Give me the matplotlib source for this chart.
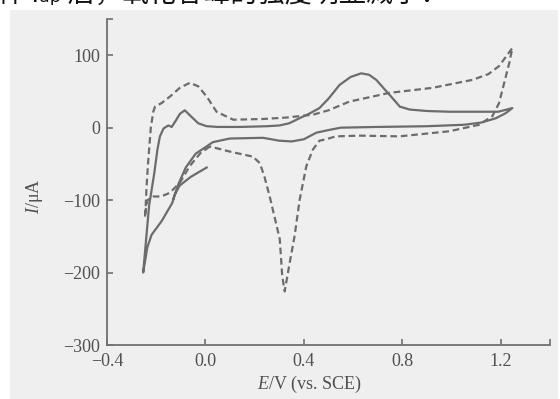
import matplotlib
matplotlib.use("Agg")
import matplotlib.pyplot as plt
from matplotlib.patches import Rectangle

# ---- data ----
solid_E = [0.005, -0.06, -0.105, -0.124, -0.135, -0.178, -0.219, -0.236, -0.253,
           -0.24, -0.229, -0.208, -0.195, -0.185, -0.17, -0.151, -0.137, -0.12, -0.104,
           -0.084, -0.063, -0.029, 0.005, 0.05, 0.14, 0.25, 0.30, 0.34, 0.382, 0.42,
           0.463, 0.50, 0.545, 0.59, 0.633, 0.665, 0.694, 0.72, 0.749, 0.79, 0.83,
           0.90, 0.99, 1.10, 1.19, 1.247,
           1.22, 1.18, 1.12, 1.05, 0.90, 0.70, 0.55, 0.504, 0.45, 0.40, 0.35, 0.30,
           0.234, 0.099, 0.03, 0.0, -0.04, -0.08, -0.11, -0.13]
solid_I = [-55, -68, -80, -92, -104, -129, -148, -165, -200,
           -150, -108, -63, -30, -12, -1, 3, 1, 10, 19,
           24, 17, 6, 2, 1, 1, 2, 3, 6, 13, 19,
           27, 40, 59, 70, 75, 73, 66, 56, 45, 29, 25,
           23, 22, 22, 22, 27,
           20, 13, 7, 4, 2, 1, 0, -3, -7, -16, -19, -18,
           -14, -15, -20, -27, -36, -55, -78, -98]

dash_E = [0.018, -0.02, -0.064, -0.104, -0.145, -0.18, -0.212, -0.235, -0.242, -0.246,
          -0.243, -0.239, -0.233, -0.222, -0.212, -0.205, -0.178, -0.144, -0.104,
          -0.063, -0.029, 0.005, 0.045, 0.113, 0.234, 0.33, 0.438, 0.50, 0.585, 0.747,
          0.923, 1.085, 1.15, 1.193, 1.247,
          1.235, 1.22, 1.193, 1.166, 1.112, 0.99, 0.788, 0.627, 0.53, 0.49, 0.463,
          0.437, 0.41, 0.383, 0.362, 0.342, 0.322, 0.312, 0.302, 0.28, 0.261, 0.240,
          0.221, 0.193, 0.099, 0.018]
dash_I = [-26, -35, -53, -76, -90, -95, -95, -100, -112, -124,
          -110, -80, -48, 0, 22, 29, 34, 43, 55,
          62, 57, 43, 22, 11, 12, 14, 18, 24, 36, 48,
          55, 66, 74, 85, 110,
          90, 70, 34, 16, 4, -5, -12, -11, -12, -16, -18,
          -30, -53, -99, -150, -187, -226, -205, -154, -122, -95, -68,
          -49, -40, -33, -26]

xticks = [-0.4, 0.0, 0.4, 0.8, 1.2, 1.4]
xticklabels = ["\u22120.4", "0.0", "0.4", "0.8", "1.2", ""]
yticks = [-300, -200, -100, 0, 100, 150]
yticklabels = ["\u2212300", "\u2212200", "\u2212100", "0", "100", ""]

# ---- style ----
plt.rcParams["font.family"] = ["Liberation Serif", "DejaVu Serif"]
plt.rcParams["mathtext.fontset"] = "custom"
plt.rcParams["mathtext.rm"] = "Liberation Serif"
plt.rcParams["mathtext.it"] = "Liberation Serif:italic"

W, H = 560, 399
fig = plt.figure(figsize=(W / 100, H / 100), dpi=100, facecolor="white")

# scanned page background
fig.patches.append(Rectangle((10 / W, 0), (W - 12) / W, (H - 10) / H,
                             transform=fig.transFigure, facecolor="#efefef",
                             edgecolor="none", zorder=-10))

# clipped line of Chinese text at the very top (from the book page)
fig.text(-0.004, 1 - 3 / H, "件 Iₐₚ 后，氧化谷峰的强度明显减小：",
         family=["Noto Sans CJK SC", "DejaVu Sans"], fontsize=19.5,
         color="#111111", va="baseline", ha="left")

ax = fig.add_axes([107 / W, 54 / H, (550 - 107) / W, (345 - 19) / H])
ax.set_facecolor("none")

line_c = "#6c6c6c"
ax.plot(solid_E, solid_I, color=line_c, lw=1.6, solid_joinstyle="round")
ld, = ax.plot(dash_E, dash_I, color=line_c, lw=1.6, linestyle="--")
ld.set_dashes((3.0, 1.7))

ax.set_xlim(-0.4, 1.4)
ax.set_ylim(-300, 150)
ax.set_xticks(xticks)
ax.set_xticklabels(xticklabels)
ax.set_yticks(yticks)
ax.set_yticklabels(yticklabels)

for s in ["top", "right"]:
    ax.spines[s].set_visible(False)
for s in ["left", "bottom"]:
    ax.spines[s].set_color("#707070")
    ax.spines[s].set_linewidth(1.3)

ax.tick_params(direction="in", length=4, width=1.2, color="#707070",
               labelsize=13, labelcolor="#505050")
ax.tick_params(axis="x", pad=6)
ax.tick_params(axis="y", pad=5)

ax.set_xlabel(r"$E$/V (vs. SCE)", fontsize=13, color="#505050")
ax.set_ylabel(r"$I$/μA", fontsize=13, color="#505050")
ax.xaxis.set_label_coords(0.458, -0.09)
ax.yaxis.set_label_coords(-0.14, 0.455)

fig.savefig("out.png", dpi=100, facecolor="white")
